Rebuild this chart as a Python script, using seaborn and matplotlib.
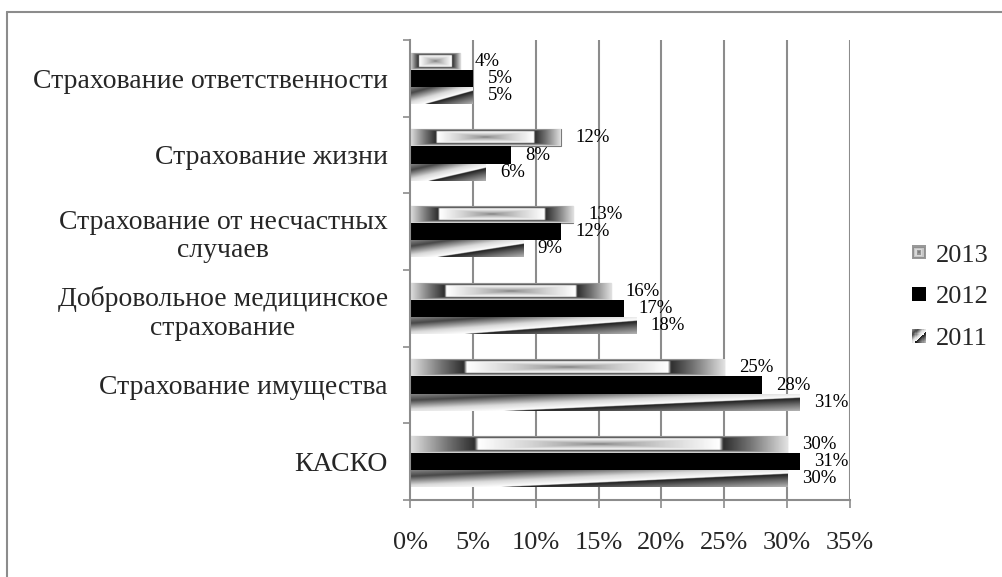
import numpy as np
import pandas as pd
import matplotlib
matplotlib.use("Agg")
import matplotlib.pyplot as plt
import seaborn as sns
from matplotlib.patches import Rectangle, Patch
from matplotlib.legend_handler import HandlerBase
from matplotlib.lines import Line2D

# ---------------- data ----------------
categories = [
    "Страхование ответственности",
    "Страхование жизни",
    "Страхование от несчастных\nслучаев",
    "Добровольное медицинское\nстрахование",
    "Страхование имущества",
    "КАСКО",
]
years = ["2013", "2012", "2011"]
values_2013 = [4, 12, 13, 16, 25, 30]
values_2012 = [5, 8, 12, 17, 28, 31]
values_2011 = [5, 6, 9, 18, 31, 30]
x_ticks = [0, 5, 10, 15, 20, 25, 30, 35]
x_tick_labels = ["0%", "5%", "10%", "15%", "20%", "25%", "30%", "35%"]

series = {"2013": values_2013, "2012": values_2012, "2011": values_2011}
df = pd.DataFrame(
    [(c, y, v) for y in years for c, v in zip(categories, series[y])],
    columns=["category", "year", "value"],
)

# ---------------- style ----------------
sns.set_theme(style="white")
plt.rcParams["font.family"] = ["Liberation Serif", "DejaVu Serif"]
GRID = "#8c8c8c"

W, H = 1002, 577
fig = plt.figure(figsize=(W / 100, H / 100), dpi=100)
fig.patch.set_facecolor("white")
ax = fig.add_axes([410 / W, 1 - 500 / H, 440 / W, 460 / H])

sns.barplot(
    data=df, x="value", y="category", hue="year", order=categories,
    hue_order=years, palette={"2013": "#b0b0b0", "2012": "black", "2011": "#a0a0a0"},
    width=0.67, saturation=1, errorbar=None, legend=False, ax=ax,
)


# ---------------- gradient fills ----------------
def grad_2013(nx, ny):
    u = np.abs(np.linspace(-1, 1, nx))[None, :]
    v = np.abs(np.linspace(-1, 1, ny))[:, None]
    d = np.maximum(u, v)
    return np.interp(d, [0.0, 0.08, 0.35, 0.64, 0.66, 0.8, 1.0],
                     [0.45, 0.62, 0.82, 1.0, 0.18, 0.45, 0.88])


def grad_2011(nx, ny):
    s = np.linspace(0, 1, nx)[None, :]
    t = np.linspace(0, 1, ny)[:, None]
    g = (s + t) / 2
    return np.interp(g, [0.0, 0.2, 0.45, 0.62, 0.635, 0.8, 1.0],
                     [0.55, 0.28, 0.85, 1.0, 0.12, 0.4, 0.7])


grad_funcs = {"2013": grad_2013, "2011": grad_2011}

for year, container in zip(years, ax.containers):
    for patch in container.patches:
        if year == "2013":
            patch.set_edgecolor("#7a7a7a")
            patch.set_linewidth(0.8)
        else:
            patch.set_edgecolor("none")
        if year in grad_funcs:
            x0, y0 = patch.get_x(), patch.get_y()
            w, h = patch.get_width(), patch.get_height()
            img = grad_funcs[year](300, 40)
            im = ax.imshow(img, extent=[x0, x0 + w, y0 + h, y0], origin="upper",
                           aspect="auto", cmap="gray", vmin=0, vmax=1,
                           interpolation="bilinear", zorder=patch.get_zorder() + 0.1)
            im.set_clip_path(patch)

# value labels
for year, container in zip(years, ax.containers):
    ax.bar_label(container, labels=[f"{v}%" for v in series[year]],
                 padding=10.5, fontsize=13.5, color="black")

# ---------------- axes ----------------
ax.set_xlim(0, 35)
ax.set_ylim(len(categories) - 0.5, -0.5)
ax.set_xticks(x_ticks)
ax.set_xticklabels(x_tick_labels)
ax.set_yticks(np.arange(len(categories) + 1) - 0.5, minor=True)
ax.set_yticks(np.arange(len(categories)))
ax.set_yticklabels(categories, multialignment="center")
ax.set_xlabel("")
ax.set_ylabel("")

for x in x_ticks[1:]:
    ax.axvline(x, color=GRID, lw=1.5, zorder=0.5)

for side in ["top", "right"]:
    ax.spines[side].set_visible(False)
for side in ["left", "bottom"]:
    ax.spines[side].set_color(GRID)
    ax.spines[side].set_linewidth(1.5)

ax.tick_params(axis="x", which="major", direction="out", length=6, width=1.2,
               color=GRID, pad=17, labelsize=19, bottom=True)
ax.tick_params(axis="y", which="major", length=0, pad=16, labelsize=20, left=False)
ax.tick_params(axis="y", which="minor", direction="out", length=5, width=1.2,
               color=GRID, left=True)


# ---------------- legend ----------------
class GridIcon(HandlerBase):
    def __init__(self, func, n=12):
        super().__init__()
        self.func = func
        self.n = n

    def create_artists(self, legend, orig_handle, xdescent, ydescent, width,
                       height, fontsize, trans):
        size = 10.0
        x0 = -xdescent + (width - size) / 2
        y0 = -ydescent + (height - size) / 2
        n = self.n
        vals = self.func(n, n)
        cell = size / n
        arts = []
        for i in range(n):
            for j in range(n):
                c = str(float(np.clip(vals[i, j], 0, 1)))
                r = Rectangle((x0 + j * cell, y0 + size - (i + 1) * cell), cell * 1.05,
                              cell * 1.05, facecolor=c, edgecolor="none",
                              antialiased=False, transform=trans)
                arts.append(r)
        return arts


def solid_black(nx, ny):
    return np.zeros((ny, nx))


def icon_2013(nx, ny):
    u = np.abs(np.linspace(-1, 1, nx))[None, :]
    v = np.abs(np.linspace(-1, 1, ny))[:, None]
    d = np.maximum(u, v)
    return np.interp(d, [0, 0.3, 0.45, 0.6, 0.75, 1.0], [0.45, 0.6, 0.85, 0.85, 0.55, 0.6])


handles = [Patch(label=y) for y in years]
handler_map = {
    handles[0]: GridIcon(icon_2013),
    handles[1]: GridIcon(solid_black),
    handles[2]: GridIcon(grad_2011),
}
leg = fig.legend(handles=handles, labels=years, handler_map=handler_map,
                 loc="center left", bbox_to_anchor=(911 / W, 1 - 297 / H),
                 frameon=False, fontsize=19, handlelength=0.6, handleheight=0.6,
                 handletextpad=0.35, labelspacing=0.72, borderpad=0,
                 borderaxespad=0)

# outer frame (top and left edges visible in the reference)
fig.add_artist(Line2D([7 / W, 1.0], [1 - 12 / H, 1 - 12 / H], color="#8c8c8c", lw=1.5,
                      transform=fig.transFigure))
fig.add_artist(Line2D([7 / W, 7 / W], [0.0, 1 - 12 / H], color="#8c8c8c", lw=1.5,
                      transform=fig.transFigure))

fig.savefig("out.png", dpi=100)
